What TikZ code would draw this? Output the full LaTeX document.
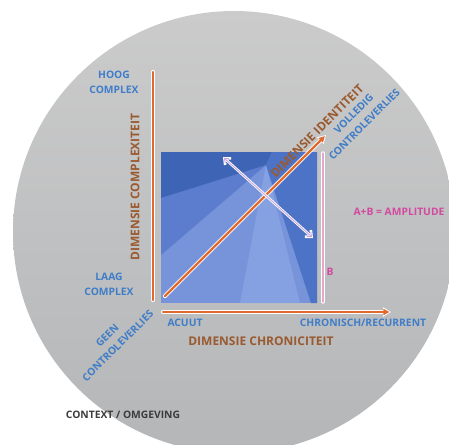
\documentclass[tikz,border=0pt]{standalone}
\usepackage{fontspec}
\setmainfont{Open Sans}
\usetikzlibrary{arrows.meta}
\definecolor{bggraytop}{HTML}{CBCBCB}
\definecolor{bggraybot}{HTML}{B4B6B8}
\definecolor{axisorange}{HTML}{E0692D}
\definecolor{labelblue}{HTML}{3F7DC8}
\definecolor{titlebrown}{HTML}{9A5A30}
\definecolor{amppink}{HTML}{D24AA0}
\definecolor{barpink}{HTML}{E6A6CF}
\definecolor{ctxgray}{HTML}{3C3C3C}
\definecolor{sqlight}{HTML}{7794DA}
\definecolor{sqdark}{HTML}{3D64B5}
\definecolor{sqmid}{HTML}{5C7DCD}
\definecolor{sqright}{HTML}{4C73C5}
\definecolor{sqbeam}{HTML}{86A1E2}
\definecolor{arrowlav}{HTML}{C9A6E0}
\tikzset{
  lbl/.style={inner sep=0pt, align=center},
  smalltext/.style={lbl, font=\fontsize{10.3}{15}\selectfont\bfseries},
  bluelabel/.style={smalltext, text=labelblue},
  pinklabel/.style={smalltext, text=amppink},
  titlelabel/.style={lbl, font=\fontsize{12}{14}\selectfont\bfseries, text=titlebrown},
  axisback/.style={white, line width=4.2pt, line cap=round},
  axisfront/.style={axisorange, line width=2.4pt, line cap=round},
  barback/.style={white, line width=3.4pt, line cap=round},
  barfront/.style={barpink, line width=1.4pt, line cap=round},
}
\begin{document}
\begin{tikzpicture}[x=1pt,y=-1pt]
\useasboundingbox (0,0) rectangle (449,444);

% grey context disc
\begin{scope}
  \clip (0,0) rectangle (449,444);
  \shade[top color=bggraytop, bottom color=bggraybot] (234,232) circle [radius=221pt];
\end{scope}

% faceted blue square
\fill[sqlight] (161,152) rectangle (317,303);
\fill[sqbeam] (266,165) -- (240,303) -- (300,303) -- cycle;
\fill[sqmid] (266,165) -- (161,198) -- (161,255) -- cycle;
\fill[sqdark] (161,152) -- (272,152) -- (266,165) -- (161,198) -- cycle;
\fill[sqright] (272,152) -- (317,152) -- (317,303) -- (311,303) -- (266,165) -- cycle;

% named end points of the connectors
\coordinate (vlow) at (153,300);
\coordinate (vhigh) at (153,72);
\coordinate (hleft) at (163,312);
\coordinate (hright) at (391,312);
\coordinate (dlow) at (165,296);
\coordinate (dhigh) at (326,135);
\coordinate (btop) at (323,153);
\coordinate (bbot) at (323,302);
\coordinate (xa) at (223,157);
\coordinate (xb) at (313,238);

% complexity axis
\draw[axisback] (vlow) -- (vhigh);
\draw[axisfront] (vlow) -- (vhigh);
% chronicity axis
\draw[axisback, -{Triangle[length=8pt,width=9pt]}] (hleft) -- (hright);
\draw[axisfront, shorten >=1.6pt, -{Triangle[length=6pt,width=6pt]}] (hleft) -- (hright);
% identity axis
\draw[axisback, -{Triangle[length=8pt,width=9pt]}] (dlow) -- (dhigh);
\draw[axisfront, shorten >=1.6pt, -{Triangle[length=6pt,width=6pt]}] (dlow) -- (dhigh);

% amplitude bar B
\draw[barback] (bbot) -- (btop);
\draw[barfront] (bbot) -- (btop);

% crossing double arrow
\draw[white, line width=2.6pt, {Straight Barb[length=5pt,width=9pt]}-{Straight Barb[length=5pt,width=9pt]}] (xa) -- (xb);
\draw[arrowlav, line width=0.9pt, shorten <=1.4pt, shorten >=1.4pt, {Straight Barb[length=3.5pt,width=6pt]}-{Straight Barb[length=3.5pt,width=6pt]}] (xa) -- (xb);

% labels
\node[bluelabel] (hoog) at (114,82.5) {HOOG\\COMPLEX};
\node[bluelabel] (laag) at (109,284.5) {LAAG\\COMPLEX};
\node[titlelabel, rotate=90] (dimcomplex) at (135,187) {DIMENSIE COMPLEXITEIT};
\node[bluelabel] (acuut) at (185,323) {ACUUT};
\node[bluelabel] (chron) at (363,323) {CHRONISCH/RECURRENT};
\node[titlelabel] (dimchron) at (261,341) {DIMENSIE CHRONICITEIT};
\node[bluelabel, rotate=45] (geen) at (112.5,340.5) {GEEN\\CONTROLEVERLIES};
\node[bluelabel, rotate=45] (volledig) at (359,119) {VOLLEDIG\\CONTROLEVERLIES};
\node[titlelabel, rotate=45] (dimident) at (317,131) {DIMENSIE IDENTITEIT};
\node[pinklabel] (ampl) at (399,212) {A+B = AMPLITUDE};
\node[pinklabel] (blabel) at (330,272) {B};
\node[smalltext, text=ctxgray] (context) at (123,415) {CONTEXT / OMGEVING};
\end{tikzpicture}
\end{document}
